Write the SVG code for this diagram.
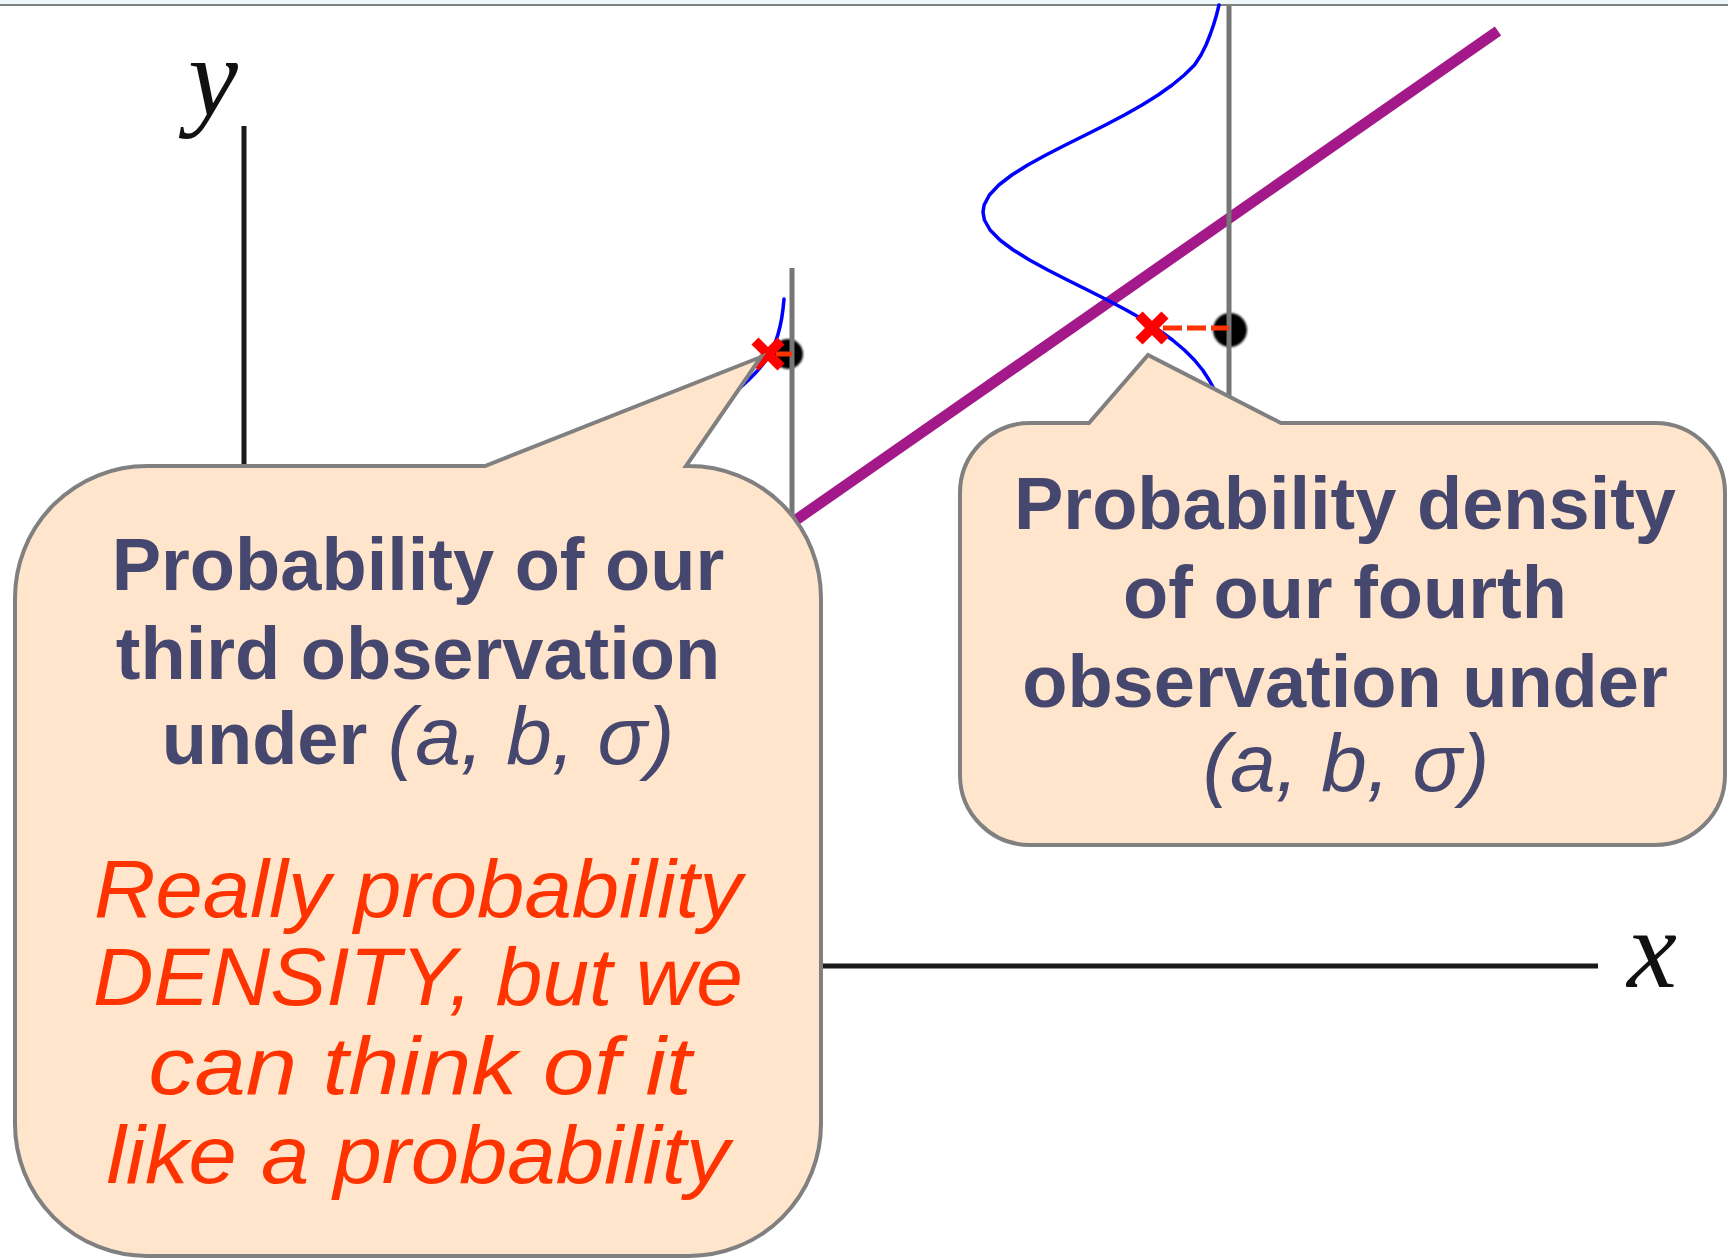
<svg xmlns="http://www.w3.org/2000/svg" width="1728" height="1260" viewBox="0 0 1728 1260">
<style>
.axis{stroke:#1a1a1a;stroke-width:5;fill:none}
.obs{stroke:#767676;stroke-width:5;fill:none}
.gauss{stroke:#0000ff;stroke-width:3.5;fill:none;stroke-linecap:round;stroke-linejoin:round}
.fit{stroke:#a3198a;stroke-width:11;fill:none}
.xm{stroke:#ff0000;stroke-width:10;stroke-linecap:butt}
.dash{stroke:#ff3300;stroke-width:5;fill:none}
.callout{fill:#fee5cc;stroke:#808080;stroke-width:4}
.lbl{font-family:"Liberation Sans",Arial,sans-serif;font-weight:bold;font-size:74px;fill:#46476f;text-anchor:middle}
.math{font-family:"Liberation Sans",Arial,sans-serif;font-style:italic;font-weight:normal;font-size:82px;fill:#46476f}
.note{font-family:"Liberation Sans",Arial,sans-serif;font-style:italic;font-size:82px;fill:#ff3300;text-anchor:middle}
.axlbl{font-family:"Liberation Serif","Times New Roman",serif;font-style:italic;font-size:112px;fill:#111;text-anchor:middle}
</style>
<defs>
<filter id="soft" x="-30%" y="-30%" width="160%" height="160%"><feGaussianBlur stdDeviation="1.3"/></filter>
</defs>
<rect x="0" y="0" width="1728" height="1260" fill="#ffffff"/>
<rect x="0" y="0" width="1728" height="5" fill="#eef7f8"/>
<line x1="0" y1="5" x2="1728" y2="5" stroke="#808080" stroke-width="2"/>

<g id="axes">
<line class="axis" x1="244" y1="126" x2="244" y2="966"/>
<line class="axis" x1="244" y1="966" x2="1598" y2="966"/>
<text class="axlbl" x="213" y="115">y</text>
<text class="axlbl" x="1652" y="987">x</text>
</g>

<g id="fit-line">
<line class="fit" x1="1498" y1="31" x2="760" y2="545"/>
</g>

<g id="observation-3">
<circle cx="788" cy="354" r="15" fill="#000" filter="url(#soft)"/>
<line class="obs" x1="792" y1="268" x2="792" y2="540"/>
<path class="gauss" d="M784,299 C782,325 777,345 766,360 C757,373 745,384 720,405"/>
</g>

<g id="observation-4">
<circle cx="1230" cy="330" r="17" fill="#000" filter="url(#soft)"/>
<line class="obs" x1="1229" y1="6" x2="1229" y2="420"/>
<polyline class="gauss" points="1219,5 1216.5,15 1213.5,25 1210,35 1206,45 1201,55 1194.5,65 1184.3,75 1172.2,85 1158.1,95 1142.1,105 1124.4,115 1105.4,125 1085.5,135 1065.4,145 1045.9,155 1027.7,165 1011.8,175 998.8,185 989.4,195 984.1,205 983,212 984.4,220 990.1,230 999.9,240 1013.3,250 1029.5,260 1047.8,270 1067.4,280 1087.5,290 1107.3,300 1126.2,310 1143.8,320 1158.6,330 1172.5,340 1184.4,350 1194.4,360 1202.6,370 1209.1,380 1214.6,390 1218.8,400 1222,410 1224,420"/>
</g>

<g id="connectors">
<line class="dash" x1="1163" y1="328" x2="1229" y2="328" stroke-dasharray="19 5"/>
<line class="dash" x1="776" y1="354" x2="792" y2="354"/>
</g>

<g id="markers">
<g transform="translate(1152,328)"><line class="xm" x1="-13" y1="-13" x2="13" y2="13"/><line class="xm" x1="-13" y1="13" x2="13" y2="-13"/></g>
<g transform="translate(768,354)"><line class="xm" x1="-13" y1="-13" x2="13" y2="13"/><line class="xm" x1="-13" y1="13" x2="13" y2="-13"/></g>
</g>

<g id="callout-third">
<path class="callout" d="M147,466 L485,466 L761,357 L686,466 L689,466 A132,132 0 0 1 821,598 L821,1124 A132,132 0 0 1 689,1256 L147,1256 A132,132 0 0 1 15,1124 L15,598 A132,132 0 0 1 147,466 Z"/>
<text class="lbl" x="418" y="590">Probability of our</text>
<text class="lbl" x="418" y="679">third observation</text>
<text class="lbl" x="418" y="764">under <tspan class="math">(a, b, σ)</tspan></text>
<text class="note" x="418" y="917" textLength="648" lengthAdjust="spacingAndGlyphs">Really probability</text>
<text class="note" x="418" y="1005" textLength="650" lengthAdjust="spacingAndGlyphs">DENSITY, but we</text>
<text class="note" x="420" y="1094" textLength="543" lengthAdjust="spacingAndGlyphs">can think of it</text>
<text class="note" x="418" y="1183" textLength="623" lengthAdjust="spacingAndGlyphs">like a probability</text>
</g>

<g id="callout-fourth">
<path class="callout" d="M1030,423 L1089,423 L1148,355 L1281,423 L1655,423 A70,70 0 0 1 1725,493 L1725,775 A70,70 0 0 1 1655,845 L1030,845 A70,70 0 0 1 960,775 L960,493 A70,70 0 0 1 1030,423 Z"/>
<text class="lbl" x="1345" y="529">Probability density</text>
<text class="lbl" x="1345" y="618">of our fourth</text>
<text class="lbl" x="1345" y="707">observation under</text>
<text class="math" x="1346" y="791" text-anchor="middle">(a, b, σ)</text>
</g>
</svg>
